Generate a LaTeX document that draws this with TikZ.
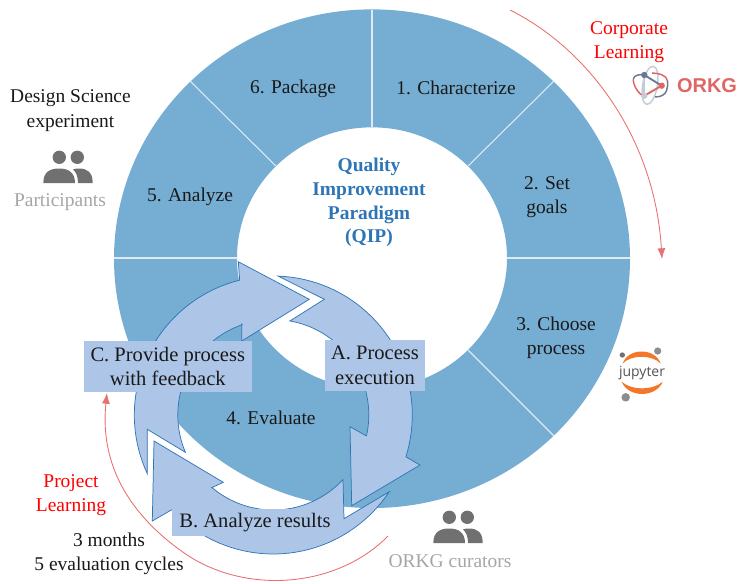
\documentclass[tikz,border=0pt]{standalone}
\usepackage{fontspec}
\setmainfont{Liberation Serif}
\newfontfamily\logosans{Liberation Sans}
\newfontfamily\jupsans{Open Sans}
\definecolor{ringblue}{HTML}{76ADD3}
\definecolor{arrowfill}{HTML}{ADC6E8}
\definecolor{arrowline}{HTML}{2E75B6}
\definecolor{titleblue}{HTML}{2E75B6}
\definecolor{peoplegray}{HTML}{707070}
\definecolor{softgray}{HTML}{A6A6A6}
\definecolor{curvered}{HTML}{E87070}
\definecolor{orkgred}{HTML}{E06666}
\definecolor{orkgslate}{HTML}{6B7A90}
\definecolor{orkgpale}{HTML}{C5CBD6}
\definecolor{juporange}{HTML}{F37726}
\tikzset{
  every node/.style={font=\fontsize{14.6}{18.2}\selectfont, align=center, inner sep=0pt, text=black!90},
  spoke/.style={draw=white!75!ringblue, line width=0.8pt},
  cyclearrow/.style={fill=arrowfill, draw=arrowline, line width=0.55pt, line join=miter},
  boxlabel/.style={fill=arrowfill, anchor=center, font=\fontsize{15.4}{18.4}\selectfont},
  curve/.style={draw=curvered, line width=0.65pt},
  redtext/.style={text=red},
  graytext/.style={text=softgray},
  titletext/.style={text=titleblue, font=\bfseries\fontsize{14.6}{17.8}\selectfont},
}
\usetikzlibrary{arrows.meta}
\newcommand{\peopleicon}{%
  \fill[peoplegray] (59.3,157.3) circle (5pt) (77.3,157.3) circle (5pt);
  \fill[peoplegray] (43.3,183) .. controls (43.3,172) and (50,168.5) .. (59,168.5) .. controls (68,168.5) and (75,172) .. (75,183) -- cycle;
  \fill[peoplegray] (78,183) .. controls (78,176) and (76,172) .. (73,169.5) .. controls (75,168.5) and (77,168.5) .. (79,168.5) .. controls (87,168.5) and (92.7,172) .. (92.7,183) -- cycle;
}
\begin{document}
\begin{tikzpicture}[x=0.75pt,y=-0.75pt]
\useasboundingbox (0,0) rectangle (738,583);
% ring
\fill[ringblue, even odd rule] (372,258.7) ellipse [x radius=193.5pt, y radius=187pt]
   (372,258) ellipse [x radius=101.25pt, y radius=98pt];
\draw[spoke] (372,9.5) -- (372,127);
\draw[spoke] (554,81) -- (468,166);
\draw[spoke] (630,258) -- (507,258);
\draw[spoke] (554,436) -- (468,350);
\draw[spoke] (114,258) -- (237,258);
\draw[spoke] (190,81) -- (276,166);
% ring labels
\node (s1) at (456,87.5) {1. Characterize};
\node (s2) at (547,197.5) {2. Set\\goals};
\node (s3) at (556,337.5) {3. Choose\\process};
\node (s5) at (190,197) {5. Analyze};
\node (s6) at (293,89) {6. Package};
\node[titletext] (qip) at (369,202.5) {Quality\\Improvement\\Paradigm\\(QIP)};
% cycle arrows
\coordinate (cc) at (273.3,415);
\draw[cyclearrow]
  plot[domain=155:256,samples=40] ({273.3+139*cos(\x)},{415+139*sin(\x)})
  -- (238.3,261.7) -- (309.3,299.3) -- (241.7,341) -- (241.7,324)
  -- plot[domain=251:157,samples=40] ({273.3+95.5*cos(\x)},{415+95.5*sin(\x)})
  -- (147.3,429.3) -- cycle;
\draw[cyclearrow]
  plot[domain=272:377.5,samples=40] ({273.3+139*cos(\x)},{415+139*sin(\x)})
  -- (420,465) -- (351.7,505.7) -- (350,426.7) -- (366,435.7)
  -- plot[domain=372.6:280,samples=40] ({273.3+95.5*cos(\x)},{415+95.5*sin(\x)})
  -- (324.3,299.3) -- cycle;
\draw[cyclearrow]
  (154,441) -- (223.3,482.3) -- (211.7,487.7)
  -- plot[domain=130:42.8,samples=40] ({273.3+95*cos(\x)},{415+95*sin(\x)})
  -- (344,518.7) -- (389.3,491.7)
  -- plot[domain=33.5:137,samples=40] ({273.3+139*cos(\x)},{415+139*sin(\x)})
  -- (152.3,521) -- cycle;
% boxes
\node[boxlabel, minimum width=125.8pt, minimum height=38pt] (c) at (167.8,366.3) {C. Provide process\\with feedback};
\node[boxlabel, minimum width=75pt, minimum height=38pt] (a) at (375,365.3) {A. Process\\execution};
\node[boxlabel, minimum width=125pt, minimum height=19.8pt] (b) at (255,522.5) {B. Analyze results};
\node (s4) at (271,418) {4. Evaluate};
% side texts
\node (ds) at (70.5,110.5) {Design Science\\experiment};
\node[graytext] (pt) at (60,202.5) {Participants};
\node[graytext] (oc) at (450,561) {ORKG curators};
\node[redtext] (cl) at (629,42.5) {Corporate\\Learning};
\node[redtext] (pl) at (71,495) {Project\\Learning};
\node (mo) at (109,553.5) {3 months\\5 evaluation cycles};
% people
\peopleicon
\begin{scope}[shift={(390,360)}]\peopleicon\end{scope}
% red curves
\coordinate (c1s) at (510,10);
\coordinate (c1e) at (662,259);
\coordinate (c2s) at (388,536);
\coordinate (c2e) at (107,393);
\draw[curve,arrows={-{Latex[length=8pt,width=6pt,color=curvered]}}] (c1s) .. controls (590,50) and (655,140) .. (c1e);
\draw[curve,arrows={-{Latex[length=8pt,width=6pt,color=curvered]}}] (c2s) .. controls (335,590) and (240,595) .. (180,550) .. controls (125,510) and (100,460) .. (c2e);
% ORKG logo
\draw[orkgpale, line width=1.1pt, rotate around={-10:(650,85.3)}] (650,85.3) ellipse [x radius=5.5pt, y radius=14.5pt];
\draw[orkgslate, line width=1.1pt] (644.3,75) .. controls (640,74) and (634,75) .. (633.3,79);
\draw[orkgred, line width=1.1pt] (633.3,79) .. controls (633,85) and (638,94) .. (645,97);
\draw[orkgred, line width=1.1pt] (652,73) .. controls (658,73) and (667,75) .. (667.5,81);
\draw[orkgslate, line width=1.1pt] (667.5,81) .. controls (668,87) and (668,97) .. (655,97);
\draw[orkgpale, line width=1.4pt] (644.3,75) -- (644.3,95.7);
\draw[orkgslate, line width=1.4pt] (644.3,75) -- (661.7,85.7);
\draw[orkgred, line width=1.4pt] (661.7,85.7) -- (644.3,95.7);
\fill[orkgslate] (644.3,75) circle (2.4pt);
\fill[orkgred] (661.7,85.7) circle (2.4pt);
\fill[orkgpale] (644.3,95.7) circle (2.4pt);
\node[text=orkgred, font=\logosans\bfseries\fontsize{15}{18}\selectfont] (orkg) at (707,85.5) {ORKG};
% Jupyter logo
\fill[juporange] (622.7,363.5) .. controls (628,347.5) and (655,347.5) .. (660.7,363.5) .. controls (652,354.5) and (631,354.5) .. cycle;
\fill[juporange] (621.7,381.7) .. controls (628,398) and (656,398) .. (662.7,381.7) .. controls (653,390.5) and (631,390.5) .. cycle;
\fill[peoplegray] (622.3,355) circle (2pt);
\fill[softgray!85!black] (657.7,351) circle (2.7pt);
\fill[softgray!85!black] (625.7,397.3) circle (3.2pt);
\node[text=peoplegray!75!black, font=\jupsans\fontsize{10.5}{11}\selectfont] (jup) at (642,373) {jupyter};
\end{tikzpicture}
\end{document}
